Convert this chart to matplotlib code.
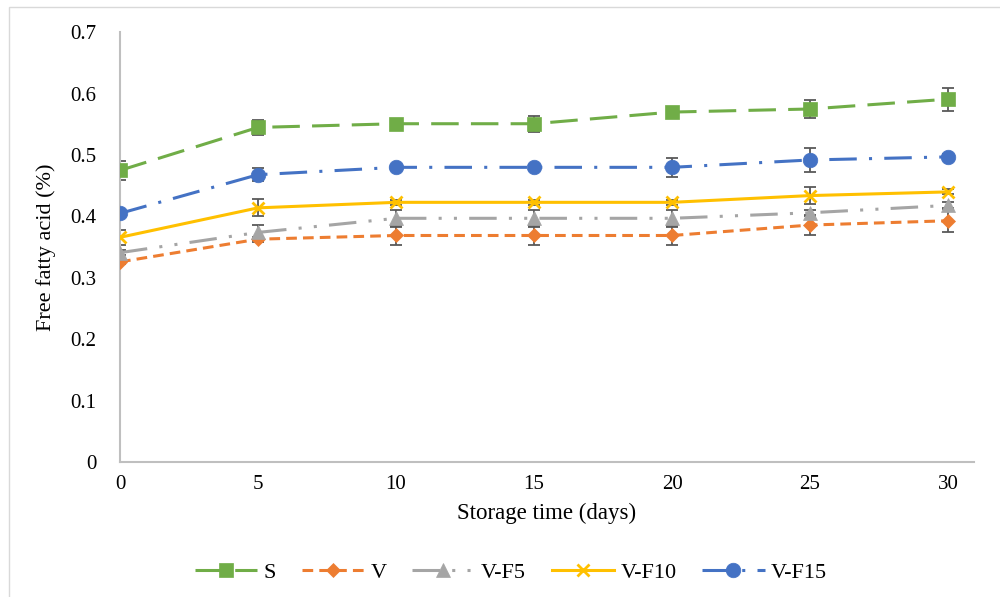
import matplotlib.pyplot as plt
from matplotlib.patches import Rectangle

plt.rcParams['font.family'] = ['Liberation Serif', 'DejaVu Serif']

# Storage days
days = [0, 5, 10, 15, 20, 25, 30]

# Free fatty acid (%) per sample
s_vals = [0.475, 0.545, 0.551, 0.551, 0.570, 0.575, 0.591]
v_vals = [0.326, 0.363, 0.369, 0.369, 0.369, 0.386, 0.393]
vf5_vals = [0.341, 0.374, 0.397, 0.397, 0.397, 0.406, 0.418]
vf10_vals = [0.366, 0.414, 0.423, 0.423, 0.423, 0.434, 0.440]
vf15_vals = [0.405, 0.468, 0.480, 0.480, 0.480, 0.492, 0.497]

# Error bars
s_err = [0.015, 0.012, 0.004, 0.013, 0.004, 0.014, 0.019]
v_err = [0.004, 0.004, 0.015, 0.015, 0.015, 0.017, 0.019]
vf5_err = [0.004, 0.012, 0.014, 0.014, 0.014, 0.005, 0.005]
vf10_err = [0.012, 0.014, 0.004, 0.004, 0.004, 0.014, 0.004]
vf15_err = [0.004, 0.011, 0.004, 0.004, 0.015, 0.020, 0.004]

series = [
    ("S", s_vals, s_err, '#70AD47', 's', 9.5, (0, (9, 4))),
    ("V", v_vals, v_err, '#ED7D31', 'D', 7, (0, (3.5, 2))),
    ("V-F5", vf5_vals, vf5_err, '#A5A5A5', '^', 10, (0, (9, 4, 1, 4, 1, 4))),
    ("V-F10", vf10_vals, vf10_err, '#FFC000', 'x', 9, '-'),
    ("V-F15", vf15_vals, vf15_err, '#4472C4', 'o', 10.5, (0, (9, 4, 1, 4))),
]

fig = plt.figure(figsize=(10, 5.97), dpi=100)
ax = fig.add_axes([0.12, 0.226, 0.854, 0.72])

for name, vals, err, col, mk, ms, ls in series:
    ax.errorbar(days, vals, yerr=err, fmt='none', ecolor='#595959',
                elinewidth=1.3, capsize=4.5, capthick=1.3, zorder=2)
    ax.plot(days, vals, color=col, linestyle=ls, linewidth=2.2, marker=mk,
            markersize=ms, markeredgewidth=2 if mk == 'x' else 0.5,
            markeredgecolor=col, label=name, zorder=3)

ax.set_xlim(0, 30.94)
ax.set_ylim(0, 0.7)
ax.set_xticks(days)
ax.set_yticks([0, 0.1, 0.2, 0.3, 0.4, 0.5, 0.6, 0.7])
ax.set_yticklabels(['0', '0.1', '0.2', '0.3', '0.4', '0.5', '0.6', '0.7'])
ax.tick_params(axis='y', length=0, labelsize=15, pad=17)
ax.tick_params(axis='x', length=0, labelsize=15, pad=9)
for sp in ['top', 'right']:
    ax.spines[sp].set_visible(False)
for sp in ['left', 'bottom']:
    ax.spines[sp].set_color('#BFBFBF')
    ax.spines[sp].set_linewidth(1.5)

ax.set_xlabel("Storage time (days)", fontsize=16.5, labelpad=7)
ax.set_ylabel("Free fatty acid (%)", fontsize=16, labelpad=10)

ax.legend(loc='center', bbox_to_anchor=(0.458, -0.258), ncol=5, frameon=False,
          fontsize=16, handlelength=2.8, columnspacing=1.15, handletextpad=0.3)

fig.patches.append(Rectangle((0.009, -0.1), 1.2, 1.088, transform=fig.transFigure,
                             fill=False, edgecolor='#D9D9D9', linewidth=1))

fig.savefig("out.png", dpi=100)
